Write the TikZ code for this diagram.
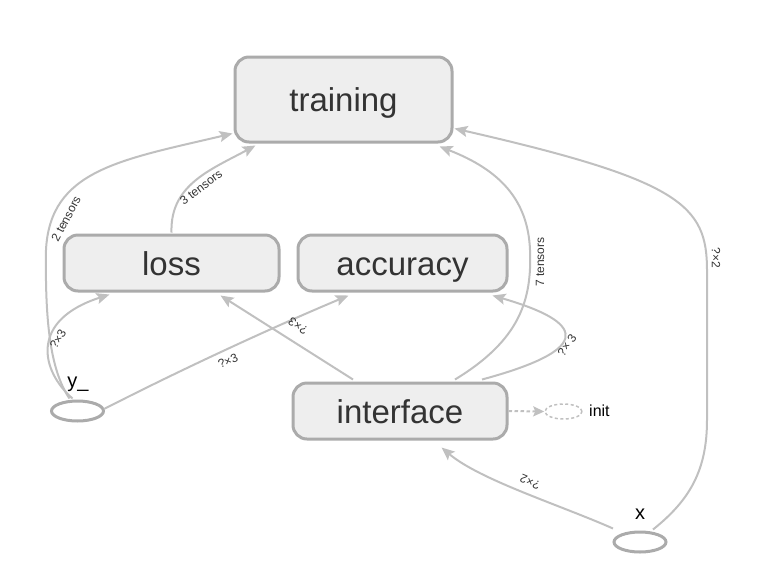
\documentclass[tikz,border=0pt]{standalone}
\usepackage{fontspec}
\setmainfont{Liberation Sans}
\usetikzlibrary{arrows.meta,shapes.geometric}
\definecolor{boxfill}{HTML}{EEEEEE}
\definecolor{boxline}{HTML}{ABABAB}
\definecolor{edgec}{HTML}{C0C0C0}
\definecolor{txt}{HTML}{333333}
\tikzset{
  box/.style={rectangle, rounded corners=14pt, draw=boxline, fill=boxfill, line width=3pt,
    font=\fontsize{33}{33}\selectfont, text=txt, inner sep=0pt, text height=24pt, text depth=0pt},
  oval/.style={ellipse, draw=boxline, line width=3pt, inner sep=0pt},
  conn/.style={draw=edgec, line width=2pt, -{Stealth[length=13pt,width=11pt,inset=2.5pt]}},
  lab/.style={font=\fontsize{12}{12}\selectfont, text=txt, inner sep=0.5pt},
  nlab/.style={font=\fontsize{20}{20}\selectfont, text=black, inner sep=0pt}
}
\begin{document}
\begin{tikzpicture}[x=1pt,y=-1pt]
\useasboundingbox (0,0) rectangle (766,574);
% nodes
\node[box, minimum width=217pt, minimum height=85pt] (training) at (343.5,99.5) {training};
\node[box, minimum width=215pt, minimum height=56pt] (loss) at (171.5,263) {loss};
\node[box, minimum width=209pt, minimum height=56pt] (accuracy) at (402.5,263) {accuracy};
\node[box, minimum width=214pt, minimum height=56pt] (interface) at (400,411) {interface};
\node[oval, minimum width=52pt, minimum height=20pt] (yy) at (77.5,411) {};
\node[nlab] (yylab) at (78,384) {y\_};
\node[oval, minimum width=52pt, minimum height=20pt] (xx) at (640,542) {};
\node[nlab] (xxlab) at (640,514) {x};
\node[ellipse, draw=edgec, line width=1.5pt, dash pattern=on 3pt off 2.5pt, minimum width=37pt, minimum height=15pt, inner sep=0pt] (init) at (563.5,411.5) {};
\node[font=\fontsize{16}{16}\selectfont, text=black, anchor=west, inner sep=0pt] (initlab) at (589,411) {init};
% connectors
\draw[conn] ([xshift=-8pt,yshift=1pt]yy.north) .. controls (50,370) and (45,320) .. (46,250)
  .. controls (50,170) and (120,160) .. ([xshift=-1pt,yshift=10pt]training.south west);
\draw[conn] ([xshift=-5pt,yshift=1pt]yy.north) .. controls (40,370) and (30,320) .. ([xshift=47pt,yshift=-2pt]loss.south west);
\draw[conn] ([yshift=1pt]loss.north) .. controls (170,185) and (210,170) .. ([xshift=22pt,yshift=-2pt]training.south west);
\draw[conn] ([xshift=-1pt,yshift=2pt]yy.east) .. controls (200,360) and (290,320) .. ([xshift=-54pt,yshift=-3pt]accuracy.south);
\draw[conn] ([xshift=-47pt,yshift=2pt]interface.north) -- ([xshift=49pt,yshift=-3pt]loss.south);
\draw[conn] ([xshift=55pt,yshift=2pt]interface.north) .. controls (520,340) and (532,300) .. (530,250)
  .. controls (528,200) and (500,170) .. ([xshift=-14pt,yshift=-3pt]training.south east);
\draw[conn] ([xshift=82pt,yshift=2pt]interface.north) .. controls (610,345) and (570,318) .. ([xshift=-16pt,yshift=-3pt]accuracy.south east);
\draw[conn] ([xshift=13pt,yshift=1pt]xx.north) .. controls (690,500) and (707,470) .. (707,420) -- (707,270)
  .. controls (707,205) and (680,180) .. ([xshift=1pt,yshift=15pt]training.south east);
\draw[conn] ([xshift=-27pt,yshift=2pt]xx.north) .. controls (560,505) and (480,480) .. ([xshift=150pt,yshift=-7pt]interface.south west);
\draw[draw=edgec, line width=2pt, dash pattern=on 3.5pt off 2.5pt, -{Stealth[length=11pt,width=10pt,inset=2pt]}] (interface.east) -- (init.west);
% labels
\node[lab, rotate=62] (l1) at (66,219) {2 tensors};
\node[lab, rotate=60] (l2) at (58,339) {?×3};
\node[lab, rotate=37] (l3) at (201,187) {3 tensors};
\node[lab, rotate=24] (l4) at (228,361) {?×3};
\node[lab, rotate=146] (l5) at (298,326) {?×3};
\node[lab, rotate=90] (l6) at (540,262) {7 tensors};
\node[lab, rotate=55] (l7) at (567,345) {?× 3};
\node[lab, rotate=-90] (l8) at (716,258) {?×2};
\node[lab, rotate=157] (l9) at (530,482) {?×2};
\end{tikzpicture}
\end{document}
